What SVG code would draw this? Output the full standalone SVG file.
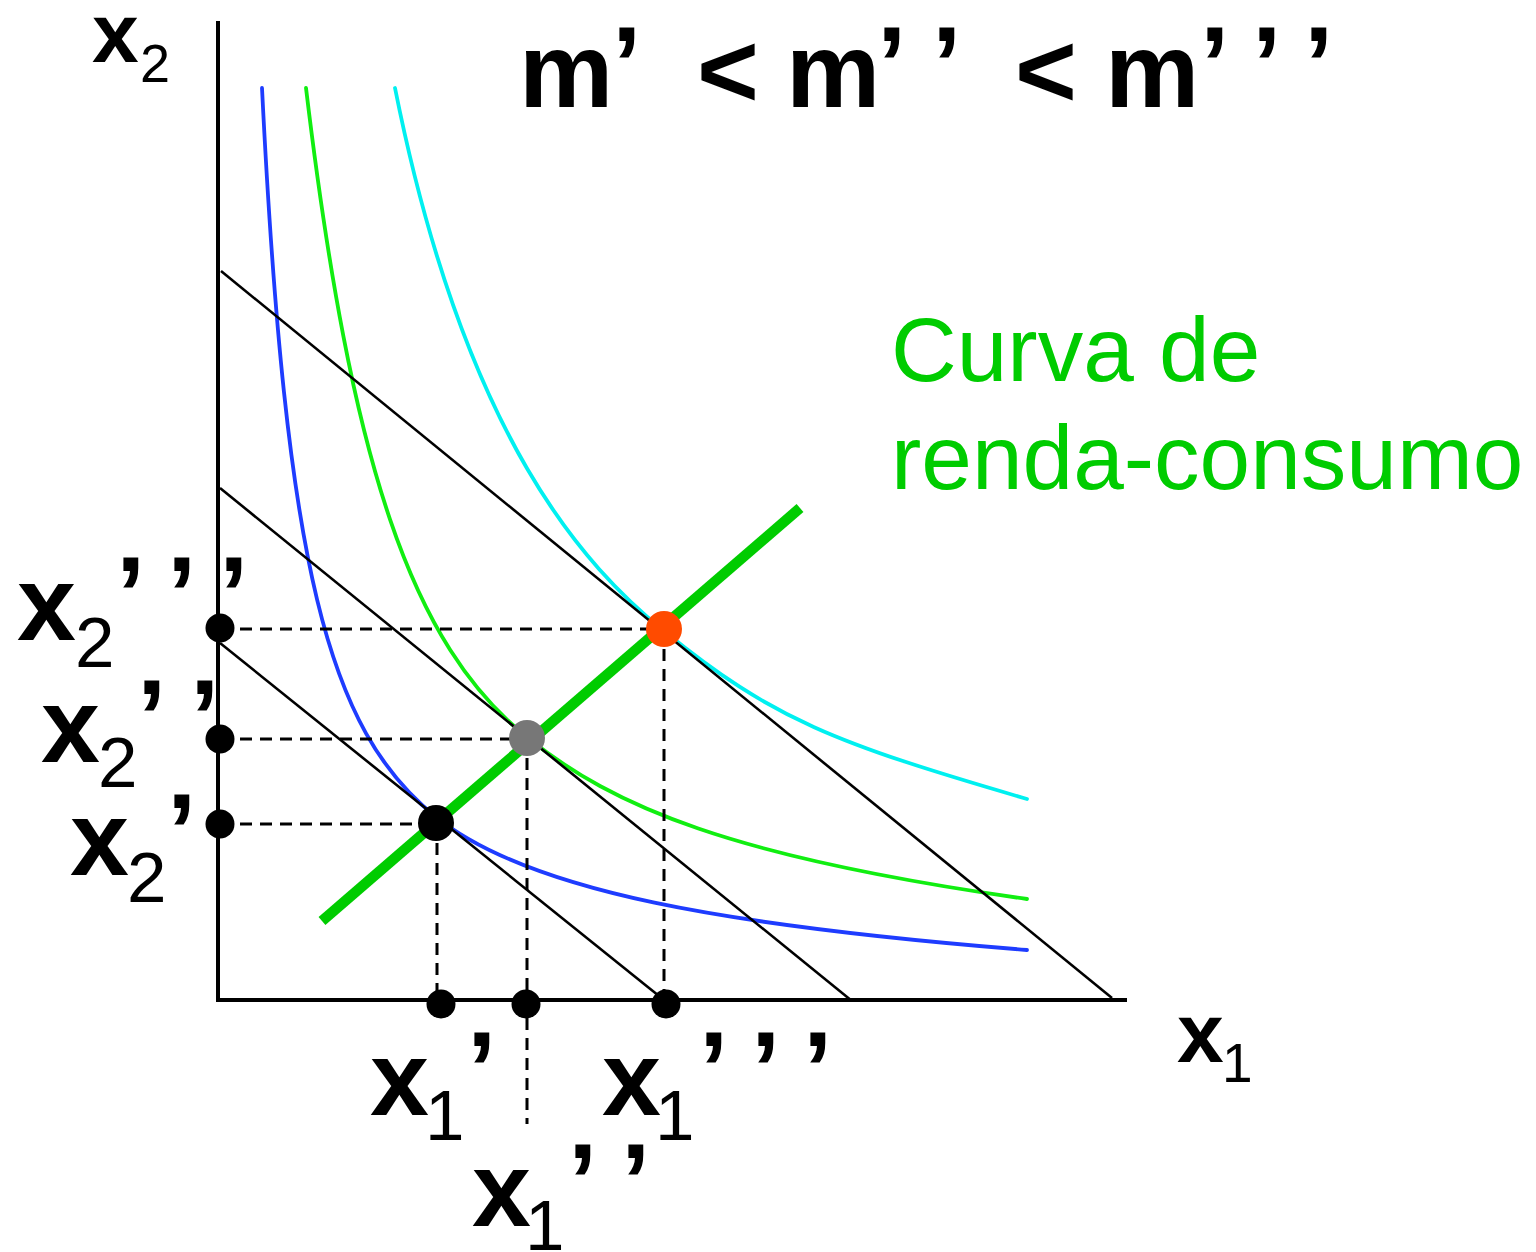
<svg xmlns="http://www.w3.org/2000/svg" width="1536" height="1252" viewBox="0 0 1536 1252">
<style>
.b{font-family:"Liberation Sans",Arial,sans-serif;font-weight:bold;fill:#000}
.r{font-family:"Liberation Sans",Arial,sans-serif;font-weight:normal;fill:#000}
.axis{stroke:#000;stroke-width:4;fill:none}
.budget{stroke:#000;stroke-width:2.6;fill:none}
.dash{stroke:#000;stroke-width:3;stroke-dasharray:12 8;fill:none}
.ic{fill:none;stroke-width:3.8;stroke-linecap:round}
.gt{font-family:"Liberation Sans",Arial,sans-serif;font-size:91px;fill:#00CC00}
</style>
<rect width="1536" height="1252" fill="#fff"/>

<g id="curves">
<path class="ic" stroke="#1E3CFF" d="M262,88 C286,568 326.9,729.2 436,817 C529.5,892.2 728,926 1027,950"/>
<path class="ic" stroke="#11EE11" d="M306,88 C351.2,465.3 410.8,644.2 528,738 C613.9,806.8 730,857 1027,899"/>
<path class="ic" stroke="#00F0F0" d="M395,88 C465.6,441.2 586.5,567.8 664,631 C772.5,719.5 835,743 1027,799"/>
</g>

<g id="connectors">
<line class="axis" x1="218" y1="21" x2="218" y2="1002"/>
<line class="axis" x1="216" y1="1000" x2="1127" y2="1000"/>
<line class="budget" x1="220" y1="643" x2="664" y2="1000"/>
<line class="budget" x1="220" y1="488" x2="852" y2="1001"/>
<line class="budget" x1="221" y1="271" x2="1112" y2="998"/>
<line stroke="#00CC00" stroke-width="10.5" x1="322" y1="921" x2="800" y2="508"/>
<line class="dash" x1="220" y1="629" x2="664" y2="629"/>
<line class="dash" x1="220" y1="739" x2="527" y2="739"/>
<line class="dash" x1="220" y1="824" x2="436" y2="824"/>
<line class="dash" x1="437" y1="823" x2="437" y2="1002"/>
<line class="dash" x1="527" y1="738" x2="527" y2="1124"/>
<line class="dash" x1="664" y1="629" x2="664" y2="1002"/>
</g>

<g id="eq-black"><circle cx="436" cy="823" r="18" fill="#000"/></g>
<g id="eq-gray"><circle cx="527" cy="738" r="18" fill="#777"/></g>
<g id="eq-orange"><circle cx="664" cy="629" r="18" fill="#FF4B00"/></g>
<g id="tick-x2a"><circle cx="220" cy="628" r="14.5" fill="#000"/></g>
<g id="tick-x2b"><circle cx="220" cy="739" r="14.5" fill="#000"/></g>
<g id="tick-x2c"><circle cx="220" cy="824" r="14.5" fill="#000"/></g>
<g id="tick-x1a"><circle cx="441" cy="1004" r="14.5" fill="#000"/></g>
<g id="tick-x1b"><circle cx="526" cy="1004" r="14.5" fill="#000"/></g>
<g id="tick-x1c"><circle cx="666" cy="1004" r="14.5" fill="#000"/></g>

<g id="title">
<text class="b" font-size="106"><tspan x="519" y="107">m</tspan><tspan x="612" y="100">’</tspan><tspan x="697" y="107">&lt;</tspan><tspan x="786" y="107">m</tspan><tspan x="877" y="100">’</tspan><tspan x="932" y="100">’</tspan><tspan x="1015" y="107">&lt;</tspan><tspan x="1105" y="107">m</tspan><tspan x="1200" y="100">’</tspan><tspan x="1252" y="100">’</tspan><tspan x="1304" y="100">’</tspan></text>
</g>

<g id="label-x2-axis">
<text class="b" font-size="84" x="92" y="62">x</text>
<text class="r" font-size="54" x="140" y="82">2</text>
</g>
<g id="label-x1-axis">
<text class="b" font-size="84" x="1177" y="1062">x</text>
<text class="r" font-size="55" x="1222" y="1082">1</text>
</g>

<g id="label-x2ppp">
<text class="b" font-size="106" x="17" y="640">x</text>
<text class="r" font-size="71" x="75" y="667">2</text>
<text class="b" font-size="106"><tspan x="116" y="630">’</tspan><tspan x="167" y="630">’</tspan><tspan x="219" y="630">’</tspan></text>
</g>
<g id="label-x2pp">
<text class="b" font-size="106" x="41" y="762">x</text>
<text class="r" font-size="71" x="98" y="787">2</text>
<text class="b" font-size="106"><tspan x="137" y="753">’</tspan><tspan x="190" y="753">’</tspan></text>
</g>
<g id="label-x2p">
<text class="b" font-size="106" x="70" y="875">x</text>
<text class="r" font-size="71" x="127" y="902">2</text>
<text class="b" font-size="106" x="167" y="867">’</text>
</g>

<g id="label-x1p">
<text class="b" font-size="106" x="370" y="1115">x</text>
<text class="r" font-size="71" x="425" y="1140">1</text>
<text class="b" font-size="106" x="467" y="1105">’</text>
</g>
<g id="label-x1ppp">
<text class="b" font-size="106" x="602" y="1115">x</text>
<text class="r" font-size="71" x="655" y="1140">1</text>
<text class="b" font-size="106"><tspan x="699" y="1105">’</tspan><tspan x="751" y="1105">’</tspan><tspan x="803" y="1105">’</tspan></text>
</g>
<g id="label-x1pp">
<text class="b" font-size="106" x="472" y="1226">x</text>
<text class="r" font-size="71" x="525" y="1250">1</text>
<text class="b" font-size="106"><tspan x="568" y="1217">’</tspan><tspan x="621" y="1217">’</tspan></text>
</g>

<g id="label-curve">
<text class="gt" x="891" y="381">Curva de</text>
<text class="gt" x="891" y="489">renda-consumo</text>
</g>
</svg>
